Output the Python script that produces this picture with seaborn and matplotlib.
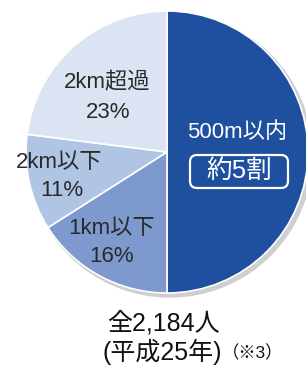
import matplotlib
matplotlib.use('Agg')
import matplotlib.pyplot as plt
import seaborn as sns
from matplotlib.patches import Circle, FancyBboxPatch

# Data
labels = ['500m以内', '1km以下', '2km以下', '2km超過']
values = [50, 16, 11, 23]
colors = ['#1f4f9f', '#7d99ce', '#b0c4e4', '#dce3f3']
total_text = '全2,184人'
year_text = '(平成25年)'
note_text = '（※3）'

sns.set_theme(style='white')
plt.rcParams['font.family'] = ['Liberation Sans', 'Noto Sans CJK JP', 'DejaVu Sans']

fig = plt.figure(figsize=(3.06, 3.66), dpi=100)
ax = fig.add_axes([0, 0, 1, 1])

H = 366
cx, cy, r = 167, H - 152, 141

# Soft grey shadow behind the pie
ax.add_patch(Circle((cx + 3, cy - 3), r + 1, color='#cfcfcf', zorder=0))

ax.pie(values, colors=colors, startangle=90, counterclock=False,
       center=(cx, cy), radius=r, frame=True,
       wedgeprops=dict(edgecolor='white', linewidth=1.2))
ax.set_xlim(0, 306)
ax.set_ylim(0, H)
ax.set_aspect('equal')
ax.axis('off')

dark = '#2a2a2a'
fs = 16

# Labels inside slices
ax.text(237, H - 133, labels[0], ha='center', va='center', fontsize=fs, color='white')
ax.add_patch(FancyBboxPatch((190, H - 188), 98, 33,
                            boxstyle='round,pad=0,rounding_size=7',
                            fc='none', ec='white', lw=1.6, zorder=5))
ax.text(239, H - 171, '約5割', ha='center', va='center', fontsize=18.5, color='white')
ax.text(107, H - 83, labels[3], ha='center', va='center', fontsize=fs, color=dark)
ax.text(108, H - 113, f'{values[3]}%', ha='center', va='center', fontsize=fs, color=dark)
ax.text(59, H - 162, labels[2], ha='center', va='center', fontsize=fs, color=dark)
ax.text(62, H - 190, f'{values[2]}%', ha='center', va='center', fontsize=fs, color=dark)
ax.text(112, H - 228, labels[1], ha='center', va='center', fontsize=fs, color=dark)
ax.text(112, H - 257, f'{values[1]}%', ha='center', va='center', fontsize=fs, color=dark)

# Caption below
ax.text(163, H - 323, total_text, ha='center', va='center', fontsize=18, color='#111111')
ax.text(103, H - 352, year_text, ha='left', va='center', fontsize=18, color='#111111')
ax.text(222, H - 353, note_text, ha='left', va='center', fontsize=12.5, color='#111111')

fig.savefig('out.png', dpi=100)
